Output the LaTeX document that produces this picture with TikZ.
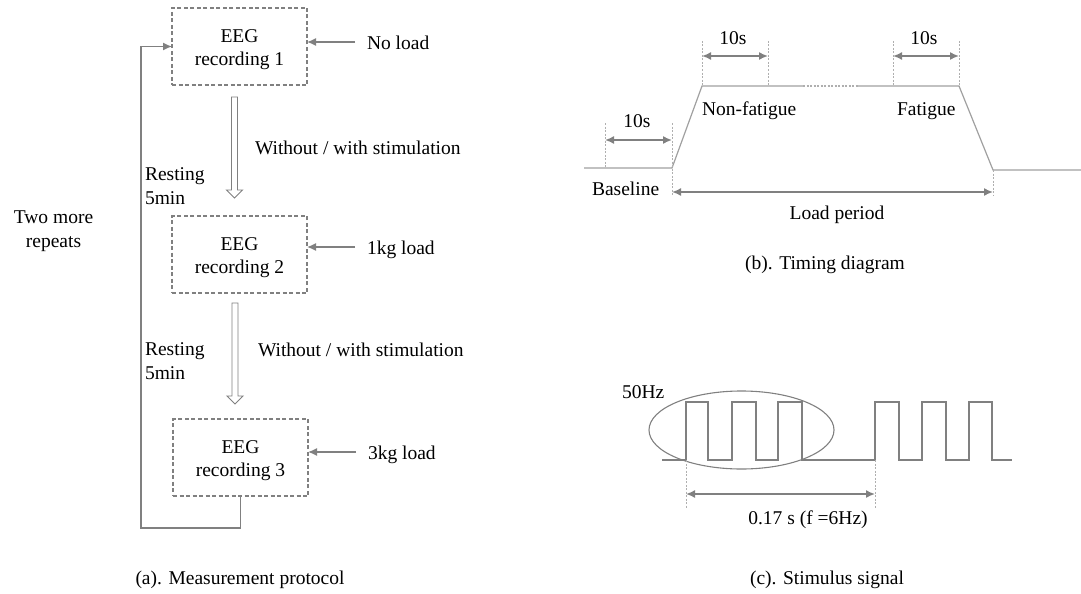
\documentclass[tikz,border=0pt]{standalone}
\usepackage{fontspec}
\setmainfont{Liberation Serif}
\usetikzlibrary{arrows.meta,shapes.geometric}
\definecolor{lg}{RGB}{128,128,128}
\definecolor{tg}{RGB}{160,160,160}
\definecolor{dg}{RGB}{175,175,175}
\newcommand\hollowdown[3]{%
  \draw[lg, fill=white, line width=0.9pt] (#1-3,#2) -- (#1-3,#3-8) -- (#1-8,#3-8) -- (#1,#3) -- (#1+8,#3-8) -- (#1+3,#3-8) -- (#1+3,#2) -- cycle;}
\newcommand\boxstrut{\rule{0pt}{19pt}}
\begin{document}
\begin{tikzpicture}[x=1pt,y=-1pt,
  every node/.style={font=\fontsize{19.5}{23.4}\selectfont, inner sep=0pt, outer sep=0pt},
  rec/.style={draw=lg, dash pattern=on 4pt off 2.5pt, line width=1.1pt, minimum width=135pt, minimum height=77pt, align=center},
  conn/.style={draw=lg, line width=1.4pt, -{Latex[length=9pt,width=8pt]}},
  loop/.style={draw=lg, line width=1.3pt},
  sig/.style={draw=tg, line width=1.2pt},
  vdash/.style={draw=dg, line width=0.8pt, dash pattern=on 2pt off 1.5pt},
  dim/.style={draw=lg, line width=1.6pt, {Latex[length=9pt,width=8pt]}-{Latex[length=9pt,width=8pt]}},
  stim/.style={draw=lg, line width=1.1pt}
]
\useasboundingbox (0,0) rectangle (1081,594);

% ---------- (a) Measurement protocol ----------
\node[rec] (r1) at (239.5,46.5) {\boxstrut EEG\\recording 1};
\node[rec] (r2) at (239.5,254.5) {\boxstrut EEG\\recording 2};
\node[rec] (r3) at (240.5,457.5) {\boxstrut EEG\\recording 3};

\node[anchor=base west] (l1) at (367,49) {No load};
\node[anchor=base west] (l2) at (367,254) {1kg load};
\node[anchor=base west] (l3) at (368,459) {3kg load};
\coordinate (s1) at (355,42);
\coordinate (s2) at (355,247);
\coordinate (s3) at (356,452);
\draw[conn] (s1) -- (r1.east |- s1);
\draw[conn] (s2) -- (r2.east |- s2);
\draw[conn] (s3) -- (r3.east |- s3);

\hollowdown{234.5}{97}{198}
\hollowdown{235}{303}{404}

\node[anchor=base west] (w1) at (255,154) {Without / with stimulation};
\node[anchor=base west] (w2) at (258,356) {Without / with stimulation};
\node[anchor=north west, align=left] (rest1) at (145,168) {Resting\\5min};
\node[anchor=north west, align=left] (rest2) at (145,343) {Resting\\5min};
\node[anchor=north, align=center] (two) at (53.5,211) {Two more\\repeats};

\coordinate (fbR) at (240.5,528);
\coordinate (fbL) at (141,528);
\draw[loop] (r3.south) -- (fbR) -- (fbL) -- (fbL |- r1.west);
\draw[conn] (fbL |- r1.west) -- (r1.west);

\node[anchor=base] (capa) at (240,584) {(a). Measurement protocol};

% ---------- (b) Timing diagram ----------
\coordinate (t0) at (584,168);
\coordinate (t1) at (672,168);
\coordinate (t2) at (702,86);
\coordinate (t3) at (803,86);
\coordinate (t4) at (858,86);
\coordinate (t5) at (959,86);
\coordinate (t6) at (993,170);
\coordinate (t7) at (1081,170);
\draw[sig] (t0) -- (t1) -- (t2) -- (t3);
\draw[draw=dg, line width=1.2pt, dash pattern=on 2pt off 1.5pt] (t3) -- (t4);
\draw[sig] (t4) -- (t5) -- (t6) -- (t7);

\coordinate (a1) at (605,123);
\coordinate (a2) at (672,123);
\coordinate (b1) at (702,41);
\coordinate (b2) at (768,41);
\coordinate (c1) at (893,41);
\coordinate (c2) at (959,41);
\coordinate (d1) at (672,195);
\coordinate (d2) at (993,195);
\draw[vdash] (a1) -- (a1 |- t0);
\draw[vdash] (a2) -- (d1);
\draw[vdash] (b1) -- (t2);
\draw[vdash] (b2) -- (b2 |- t2);
\draw[vdash] (c1) -- (c1 |- t2);
\draw[vdash] (c2) -- (t5);
\draw[vdash] (t6) -- (d2);

\draw[dim] (605,140) -- (672,140);
\draw[dim] (702,56) -- (768,56);
\draw[dim] (893,56) -- (959,56);
\draw[dim] (672,192) -- (993,192);

\node[anchor=base] (ten1) at (637,127.7) {10s};
\node[anchor=base] (ten2) at (733,44.3) {10s};
\node[anchor=base] (ten3) at (924,44.3) {10s};
\node[anchor=base west] (nf) at (702,115) {Non-fatigue};
\node[anchor=base west] (fa) at (897,115) {Fatigue};
\node[anchor=base west] (bl) at (592,195) {Baseline};
\node[anchor=base] (lp) at (837,219) {Load period};

\node[anchor=base] (capb) at (825,269) {(b). Timing diagram};

% ---------- (c) Stimulus signal ----------
\draw[stim] (662,460) -| (686,402) -| (708,460) -| (732,402) -| (756,460) -| (778,402) -| (802,460)
  -| (875,402) -| (899,460) -| (922,402) -| (946,460) -| (969,402) -| (992,460) -- (1012,460);
\node[draw=lg, line width=1.1pt, ellipse, minimum width=185pt, minimum height=78pt] (ell) at (741.5,430) {};
\node[anchor=base west] (hz) at (622,398) {50Hz};
\draw[vdash] (686,460) -- (686,508);
\draw[vdash] (875,460) -- (875,508);
\draw[dim] (686,494) -- (875,494);
\node[anchor=base] (per) at (808,524) {0.17 s (f =6Hz)};

\node[anchor=base] (capc) at (827,584) {(c). Stimulus signal};
\end{tikzpicture}
\end{document}
